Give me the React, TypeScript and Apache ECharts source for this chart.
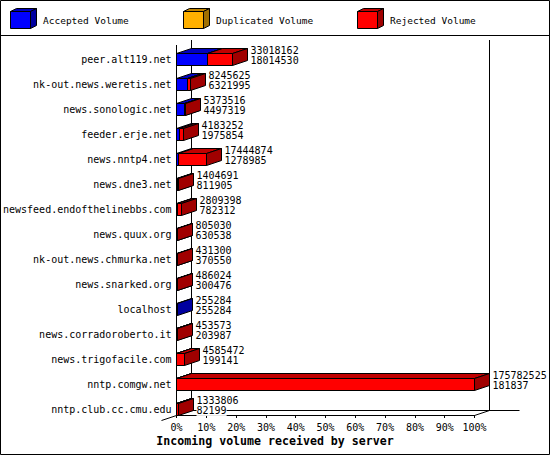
import React, { useEffect, useRef } from 'react';
import * as echarts from 'echarts';

const hosts = [
  'peer.alt119.net',
  'nk-out.news.weretis.net',
  'news.sonologic.net',
  'feeder.erje.net',
  'news.nntp4.net',
  'news.dne3.net',
  'newsfeed.endofthelinebbs.com',
  'news.quux.org',
  'nk-out.news.chmurka.net',
  'news.snarked.org',
  'localhost',
  'news.corradoroberto.it',
  'news.trigofacile.com',
  'nntp.comgw.net',
  'nntp.club.cc.cmu.edu',
];

const totalVolume = [
  33018162, 8245625, 5373516, 4183252, 17444874, 1404691, 2809398, 805030,
  431300, 486024, 255284, 453573, 4585472, 175782525, 1333806,
];

const acceptedVolume = [
  18014530, 6321995, 4497319, 1975854, 1278985, 811905, 782312, 630538,
  370550, 300476, 255284, 203987, 199141, 181837, 82199,
];

const duplicatedVolume = [0, 0, 0, 0, 0, 0, 0, 0, 0, 0, 0, 0, 0, 0, 0];

const rejectedVolume = [
  15003632, 1923630, 876197, 2207398, 16165889, 592786, 2027086, 174492,
  60750, 185548, 0, 249586, 4386331, 175600688, 1251607,
];

const percentTicks = [0, 10, 20, 30, 40, 50, 60, 70, 80, 90, 100];

const legendNames = ['Accepted Volume', 'Duplicated Volume', 'Rejected Volume'];
const colors = {
  front: ['#0000ff', '#ffb000', '#ff0000'],
  top: ['#0000c0', '#c08400', '#c00000'],
  side: ['#0000a0', '#a06f00', '#a00000'],
};

const MONO = '"DejaVu Sans Mono", monospace';
const DX = 15;
const DY = 5;
const GRID_LEFT = 176.5;
const GRID_TOP = 47;
const GRID_W = 298;
const GRID_H = 375;

const snap = (v: number) => Math.floor(v) + 0.5;

function boxRender(seriesIdx: number) {
  return (params: any, api: any) => {
    const cat = api.value(0);
    const v0 = api.value(1);
    const v1 = api.value(2);
    if (!(v1 > v0)) return null;
    const p0 = api.coord([v0, cat]);
    const p1 = api.coord([v1, cat]);
    const band = api.size([0, 1])[1];
    const h = band * 0.5;
    const xa = snap(p0[0]);
    let xb = snap(p1[0]);
    if (xb < xa) xb = xa;
    const yt = snap(p0[1] - h / 2);
    const yb = snap(p0[1] + h / 2);
    const stroke = { stroke: '#000', lineWidth: 1 };
    return {
      type: 'group',
      children: [
        {
          type: 'rect',
          shape: { x: xa, y: yt, width: xb - xa, height: yb - yt },
          style: { fill: colors.front[seriesIdx], ...stroke },
        },
        {
          type: 'polygon',
          shape: {
            points: [
              [xa, yt],
              [xb, yt],
              [xb + DX, yt - DY],
              [xa + DX, yt - DY],
            ],
          },
          style: { fill: colors.top[seriesIdx], ...stroke },
        },
        {
          type: 'polygon',
          shape: {
            points: [
              [xb, yt],
              [xb + DX, yt - DY],
              [xb + DX, yb - DY],
              [xb, yb],
            ],
          },
          style: { fill: colors.side[seriesIdx], ...stroke },
        },
      ],
    };
  };
}

export default function App() {
  const ref = useRef<HTMLDivElement>(null);
  useEffect(() => {
    if (!ref.current) return;
    const chart = echarts.init(ref.current, null, { renderer: 'svg' });
    const maxTotal = Math.max(...totalVolume);
    const pct = (v: number) => (v / maxTotal) * 100;

    const accData = hosts.map((_, i) => [i, 0, pct(acceptedVolume[i])]);
    const dupData = hosts.map((_, i) => [
      i,
      pct(acceptedVolume[i]),
      pct(acceptedVolume[i] + duplicatedVolume[i]),
    ]);
    const rejData = hosts.map((_, i) => [
      i,
      pct(acceptedVolume[i] + duplicatedVolume[i]),
      pct(acceptedVolume[i] + duplicatedVolume[i] + rejectedVolume[i]),
    ]);
    const labelData = hosts.map((_, i) => [i, pct(totalVolume[i])]);

    const line = (x1: number, y1: number, x2: number, y2: number) => ({
      type: 'line',
      z: 0,
      shape: { x1, y1, x2, y2 },
      style: { stroke: '#000', lineWidth: 1 },
      silent: true,
    });

    const xFront0 = GRID_LEFT;
    const xFront1 = GRID_LEFT + GRID_W;
    const yAxisFront = 415.5;
    const yAxisBack = yAxisFront - DY;
    const yTopFront = GRID_TOP - 2;

    const legendGraphics: any[] = [];
    const legendX = [10, 183, 357];
    legendX.forEach((lx, k) => {
      const x0 = lx + 0.5;
      const x1 = x0 + 20;
      const y0 = 11.5;
      const y1 = 28.5;
      const d = 6;
      const dy = 3;
      legendGraphics.push(
        {
          type: 'rect',
          shape: { x: x0, y: y0, width: x1 - x0, height: y1 - y0 },
          style: { fill: colors.front[k], stroke: '#000', lineWidth: 1 },
        },
        {
          type: 'polygon',
          shape: { points: [[x0, y0], [x1, y0], [x1 + d, y0 - dy], [x0 + d, y0 - dy]] },
          style: { fill: colors.top[k], stroke: '#000', lineWidth: 1 },
        },
        {
          type: 'polygon',
          shape: { points: [[x1, y0], [x1 + d, y0 - dy], [x1 + d, y1 - dy], [x1, y1]] },
          style: { fill: colors.side[k], stroke: '#000', lineWidth: 1 },
        },
        {
          type: 'text',
          x: lx + 33,
          y: 20,
          style: {
            text: legendNames[k],
            fontFamily: 'DejaVu Sans Mono',
            fontSize: 9.5,
            fill: '#000',
            align: 'left',
            verticalAlign: 'middle',
          },
        }
      );
    });

    const option: any = {
      animation: false,
      backgroundColor: '#ffffff',
      title: {
        text: 'Incoming volume received by server',
        left: 'center',
        top: 435,
        padding: 0,
        textStyle: {
          fontFamily: MONO,
          fontWeight: 'bold',
          fontSize: 11.6,
          color: '#000',
        },
      },
      grid: { left: GRID_LEFT, top: GRID_TOP, width: GRID_W, height: GRID_H },
      xAxis: {
        type: 'value',
        min: percentTicks[0],
        max: percentTicks[percentTicks.length - 1],
        interval: percentTicks[1] - percentTicks[0],
        offset: -7,
        axisLine: { show: true, lineStyle: { color: '#000', width: 1 } },
        axisTick: { show: true, length: 3, lineStyle: { color: '#000' } },
        axisLabel: {
          margin: 7,
          fontFamily: MONO,
          fontSize: 10,
          color: '#000',
          formatter: (v: number) => `${Math.round(v)}%`,
        },
        splitLine: { show: false },
      },
      yAxis: {
        type: 'category',
        inverse: true,
        data: hosts,
        axisLine: { show: false },
        axisTick: { show: false },
        axisLabel: {
          margin: 5,
          fontFamily: MONO,
          fontSize: 10,
          color: '#000',
        },
        splitLine: { show: false },
      },
      series: [
        {
          name: legendNames[0],
          type: 'custom',
          renderItem: boxRender(0),
          encode: { x: [1, 2], y: 0 },
          data: accData,
          z: 3,
        },
        {
          name: legendNames[1],
          type: 'custom',
          renderItem: boxRender(1),
          encode: { x: [1, 2], y: 0 },
          data: dupData,
          z: 4,
        },
        {
          name: legendNames[2],
          type: 'custom',
          renderItem: boxRender(2),
          encode: { x: [1, 2], y: 0 },
          data: rejData,
          z: 5,
        },
        {
          name: 'labels',
          type: 'custom',
          encode: { x: 1, y: 0 },
          data: labelData,
          z: 6,
          renderItem: (params: any, api: any) => {
            const i = api.value(0);
            const p = api.coord([api.value(1), i]);
            const x = snap(p[0]) + DX + 3;
            const style = (text: string) => ({
              text,
              fontFamily: 'DejaVu Sans Mono',
              fontSize: 10,
              fill: '#000',
              align: 'left',
              verticalAlign: 'middle',
              backgroundColor: '#fff',
            });
            return {
              type: 'group',
              children: [
                { type: 'text', x, y: p[1] - 9.2, style: style(String(totalVolume[i])) },
                { type: 'text', x, y: p[1] + 1.4, style: style(String(acceptedVolume[i])) },
              ],
            };
          },
        },
      ],
      graphic: [
        {
          type: 'rect',
          z: 0,
          shape: { x: 0.5, y: 0.5, width: 549, height: 454 },
          style: { fill: 'none', stroke: '#000', lineWidth: 1 },
        },
        line(0, 35.5, 550, 35.5),
        line(xFront0, yTopFront, xFront0, yAxisFront),
        line(xFront0 + DX, yTopFront - DY, xFront0 + DX, yAxisBack),
        line(xFront1 + DX, yTopFront - DY, xFront1 + DX, yAxisBack),
        line(xFront0 + DX, yAxisBack, xFront1 + DX + 30, yAxisBack),
        line(xFront0 - DX, yAxisFront + DY, xFront0, yAxisFront),
        line(xFront1, yAxisFront, xFront1 + DX, yAxisBack),
        ...legendGraphics,
      ],
    };
    chart.setOption(option);
    return () => chart.dispose();
  }, []);
  return (
    <div
      ref={ref}
      style={{ position: 'fixed', left: 0, top: 0, width: 550, height: 455, background: '#fff' }}
    />
  );
}
